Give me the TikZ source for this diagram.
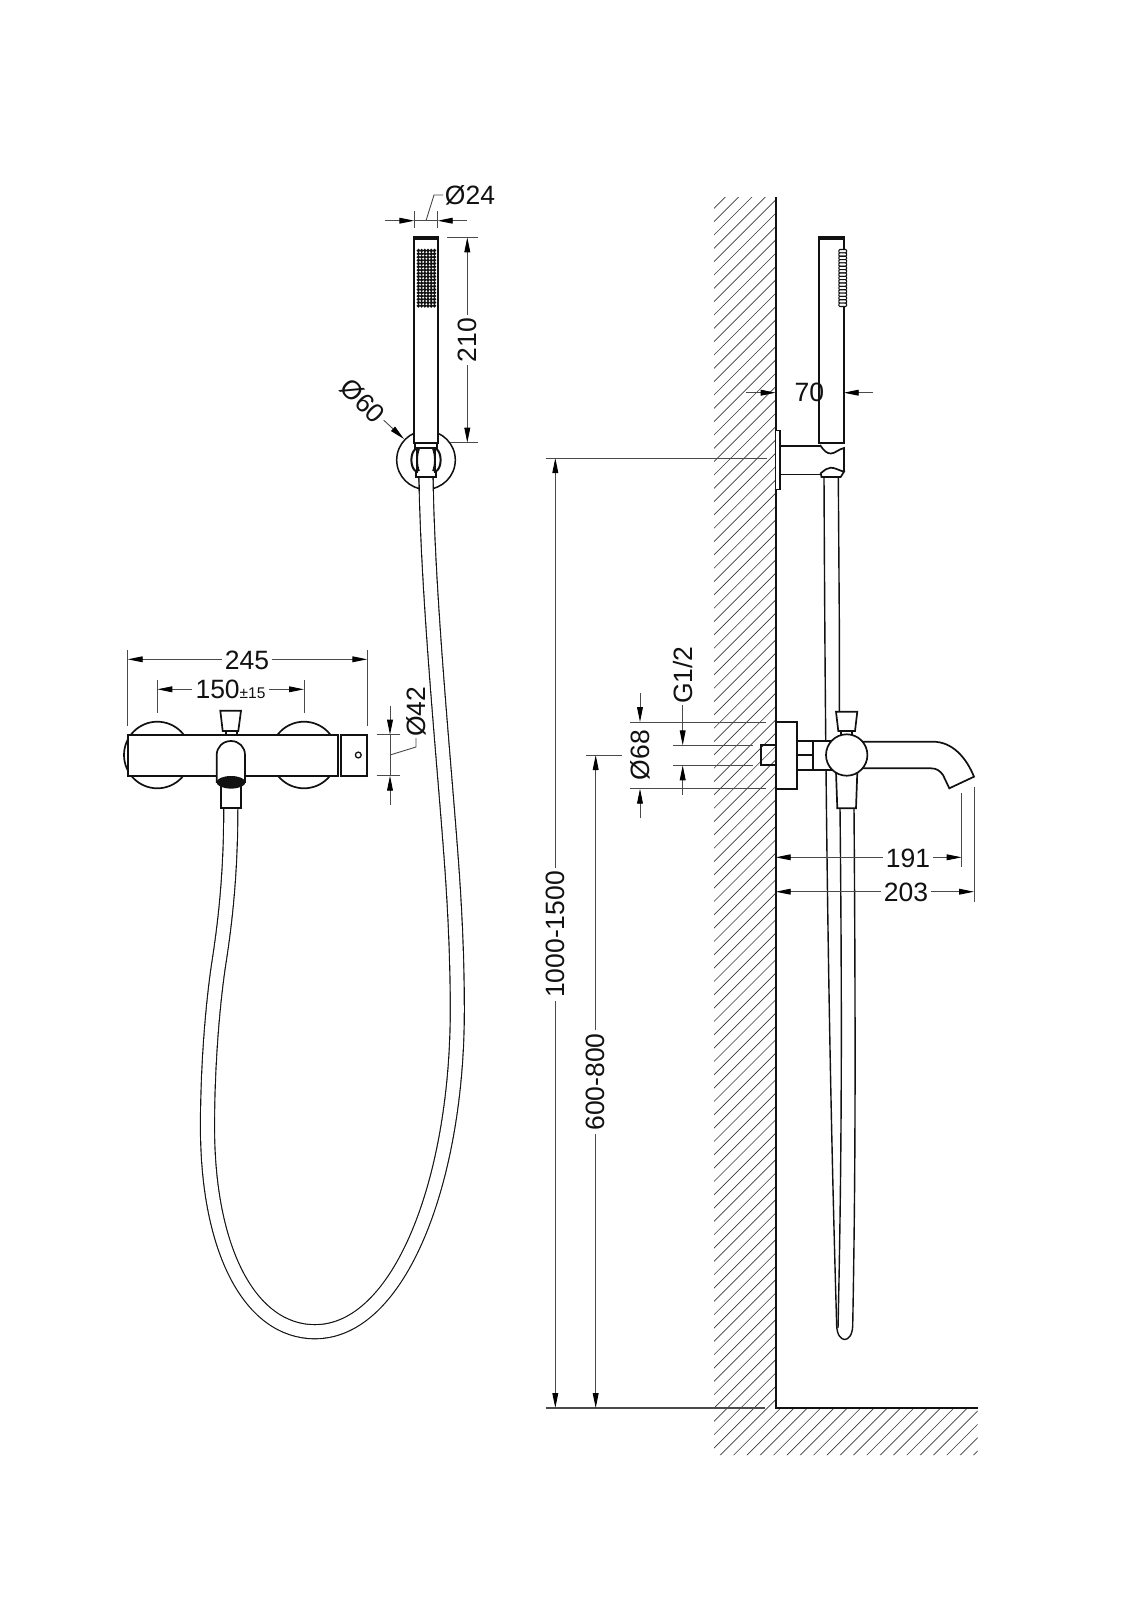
\documentclass[tikz,border=0pt]{standalone}
\usepackage{fontspec}
\setmainfont{Liberation Sans}
\usetikzlibrary{arrows.meta}
\definecolor{dimgrey}{HTML}{4A4A4A}
\definecolor{hatchgrey}{HTML}{3A3A3A}
\definecolor{inkblack}{HTML}{111111}
\tikzset{
  dimtip/.tip={Triangle[length=15pt,width=5.8pt,color=black,fill=black]},
  part/.style={line width=1.7pt,draw=inkblack,line join=miter},
  partfill/.style={part,fill=white},
  hoseline/.style={line width=1.15pt,draw=inkblack},
  hosedouble/.style={line width=1.15pt,draw=inkblack,double=white,double distance=12.9pt},
  dimen/.style={line width=0.9pt,draw=dimgrey},
  hatchl/.style={line width=0.65pt,draw=hatchgrey},
  lbl/.style={font=\fontsize{26.5}{30}\selectfont,text=inkblack,inner sep=3pt},
}
\begin{document}
\begin{tikzpicture}[x=1pt,y=-1pt]
\useasboundingbox (0,0) rectangle (1131,1600);
\fill[white] (0,0) rectangle (1131,1600);

% ---- wall hatching
\begin{scope}
\clip (714,197) -- (775.7,197) -- (775.7,1408) -- (977.7,1408) -- (977.7,1455) -- (714,1455) -- cycle;
\foreach \k in {-7,...,110} {
  \pgfmathsetmacro\cc{989+13.33*\k}
  \draw[hatchl] (700,\cc-700) -- (1000,\cc-1000);
}
\end{scope}
\draw[line width=2pt,draw=inkblack] (775.7,197) -- (775.7,1408) -- (977.7,1408);

% ---- LEFT VIEW: long hose
\draw[hosedouble] (426,477) .. controls (428,600) and (444,760) .. (451.3,860)
  .. controls (455,910) and (457.3,960) .. (457.3,1010)
  .. controls (457.3,1180) and (400,1331.7) .. (315,1331.7)
  .. controls (250,1331.7) and (207.5,1250) .. (207.5,1126.7)
  .. controls (207.5,1070) and (212,1010) .. (218.3,966.7)
  .. controls (224,930) and (230.8,880) .. (230.8,808);

% ---- LEFT VIEW: wall bracket and hand shower
\draw[part,line width=1.5pt] (426,460) circle[radius=29.3pt];
\fill[white] (419,477) rectangle (433,491);
\draw[hoseline] (419,477) -- (419.3,491) (433,477) -- (433.3,491);
\draw[partfill] (414.3,237.3) rectangle (437.7,442.7);
\fill[inkblack] (414.3,237) rectangle (437.7,240);
\foreach \i in {0,...,5} \foreach \j in {0,...,17}
  \fill[inkblack] (418.4+3.2*\i,250.6+3.25*\j) circle[radius=1.95pt];
\draw[partfill] (415,442.7) rectangle (437,448);
\draw[partfill] (417,448) -- (417,472) -- (416,472) -- (416,477) -- (436,477) -- (436,472) -- (435,472) -- (435,448) -- cycle;
\draw[part,line width=2pt] (415.5,449) .. controls (410,453) and (410,467) .. (415.5,471);
\draw[part,line width=2pt] (436.5,449) .. controls (442,453) and (442,467) .. (436.5,471);
\draw[part] (419,449) .. controls (416.5,455) and (416.5,465) .. (419,471);
\draw[part] (433,449) .. controls (435.5,455) and (435.5,465) .. (433,471);

% ---- LEFT VIEW: mixer
\draw[part] (157.3,755) circle[radius=33.3pt];
\draw[part] (304,755) circle[radius=33.3pt];
\draw[partfill] (128.3,734.7) rectangle (338.3,775.7);
\draw[partfill] (340.7,734.7) rectangle (367.3,775.7);
\draw[part,line width=1.3pt] (358.3,755) circle[radius=2.9pt];
\draw[partfill] (225.7,731) rectangle (236.7,735);
\draw[partfill] (220.3,710.7) -- (241,710.7) -- (238.3,731) -- (222.7,731) -- cycle;
\draw[partfill] (221,784) rectangle (240.7,808);
\draw[partfill] (216.7,782) -- (216.7,755) .. controls (216.7,747) and (223,741) .. (231,741) .. controls (239,741) and (245,747) .. (245,755) -- (245,782) -- cycle;
\fill[inkblack] (231,782.3) ellipse[x radius=14.5pt,y radius=6.3pt];

% ---- RIGHT VIEW: hose
\draw[hoseline,line width=1.4pt] (824,477) .. controls (825,700) and (827,1000) .. (836.7,1326) .. controls (837.5,1344) and (852,1344) .. (852.7,1326) .. controls (855,1200) and (856,1080) .. (854,808);
\draw[hoseline,line width=1.4pt] (840,808) .. controls (842,1000) and (842,1150) .. (838,1328);
\draw[hoseline,line width=1.4pt] (838.3,477) -- (839.3,620) -- (839.3,712);

% ---- RIGHT VIEW: bracket and shower
\draw[part] (820,445.7) -- (780,445.7) (820,474.5) -- (780,474.5);
\draw[partfill,line width=1.4pt] (775.7,430.7) rectangle (780,489.3);
\draw[partfill] (819.3,237.3) rectangle (843.7,443.3);
\fill[inkblack] (819.3,237) rectangle (843.7,240);
\foreach \j in {0,...,16}
  \draw[line width=1.1pt,draw=inkblack,fill=white,rounded corners=1pt] (838.8,249.5+3.35*\j) rectangle (846.6,252.9+3.35*\j);
\draw[part] (820,445) .. controls (824,451) and (827,453.5) .. (830.7,453.5) .. controls (835,453.5) and (838,449.5) .. (844,448) -- (844,471.7);
\draw[partfill] (821.5,477) -- (820.7,473.3) .. controls (825,470) and (827,467.7) .. (830.7,467.7) .. controls (835,467.7) and (838,470) .. (844,471.7) -- (840.7,477) -- cycle;

% ---- RIGHT VIEW: mixer
\draw[partfill] (775.7,722) rectangle (796.7,788.7);
\draw[part] (775.7,745.3) -- (761,745.3) -- (761,765.3) -- (775.7,765.3);
\draw[partfill] (813.3,741) rectangle (832,770);
\draw[partfill] (796.7,741) rectangle (813.3,770);
\draw[part] (796.7,755) -- (813.3,755);
\draw[partfill] (860,741.7) -- (933,741.7) .. controls (952,741.7) and (966,757) .. (974,776.7) -- (949.3,788.3) -- (943,775) .. controls (940,771) and (937,768.3) .. (931,768.3) -- (860,768.3);
\draw[partfill] (841,731) rectangle (852,736);
\draw[partfill] (836,711.7) -- (857.3,711.7) -- (855,731) -- (838.3,731) -- cycle;
\draw[partfill] (836,772) -- (857.3,772) -- (856,808.3) -- (837.3,808.3) -- cycle;
\draw[partfill] (846.7,755) circle[radius=20.7pt];

% ---- dimensions, left view
\node[lbl] (t24) at (470,195) {Ø24};
\coordinate (e24a) at (414.3,220.7); \coordinate (e24b) at (437.7,220.7);
\coordinate (f24a) at (385,220.7); \coordinate (f24b) at (467,220.7);
\coordinate (l24a) at (426,220.7); \coordinate (l24b) at (434,195); \coordinate (l24c) at (443,195);
\draw[dimen,-{dimtip}] (f24a) -- (e24a);
\draw[dimen,-{dimtip}] (f24b) -- (e24b);
\draw[dimen] (e24a) -- (e24b);
\draw[dimen] (l24a) -- (l24b) -- (l24c);
\draw[dimen] (414.3,211) -- (414.3,228) (437.7,211) -- (437.7,228);

\node[lbl,rotate=90] (t210) at (467.3,340) {210};
\coordinate (a210) at (467.3,237.3); \coordinate (b210) at (467.3,442.7);
\draw[dimen,-{dimtip}] (t210) -- (a210);
\draw[dimen,-{dimtip}] (t210) -- (b210);
\draw[dimen] (447,237.3) -- (478,237.3) (450,442.7) -- (478,442.7);

\node[lbl,rotate=-45] (t60) at (363,401) {Ø60};
\coordinate (a60) at (404,439);
\draw[dimen,-{dimtip}] (t60) -- (a60);

\node[lbl] (t245) at (247,660) {245};
\coordinate (a245) at (127.7,659.3); \coordinate (b245) at (367.3,659.3);
\draw[dimen,-{dimtip}] (t245.west |- a245) -- (a245);
\draw[dimen,-{dimtip}] (t245.east |- b245) -- (b245);
\draw[dimen] (127.7,650) -- (127.7,726) (367.3,650) -- (367.3,726);

\node[lbl] (t150) at (230.5,689.5) {150{\fontsize{15.5}{18}\selectfont ±15}};
\coordinate (a150) at (157.3,689.3); \coordinate (b150) at (304,689.3);
\draw[dimen,-{dimtip}] (t150.west |- a150) -- (a150);
\draw[dimen,-{dimtip}] (t150.east |- b150) -- (b150);
\draw[dimen] (157.3,680) -- (157.3,712.7) (304,680) -- (304,712.7);

\node[lbl,rotate=90] (t42) at (416.7,711.7) {Ø42};
\coordinate (a42) at (390,734.7); \coordinate (b42) at (390,775.7);
\coordinate (f42a) at (390,705.7); \coordinate (f42b) at (390,805);
\coordinate (l42a) at (390,755); \coordinate (l42b) at (416,747); \coordinate (l42c) at (416,738);
\draw[dimen,-{dimtip}] (f42a) -- (a42);
\draw[dimen,-{dimtip}] (f42b) -- (b42);
\draw[dimen] (a42) -- (b42);
\draw[dimen] (l42a) -- (l42b) -- (l42c);
\draw[dimen] (376.7,734.7) -- (400,734.7) (376.7,775.7) -- (400,775.7);

% ---- dimensions, right view
\node[lbl] (t70) at (809.3,392.7) {70};
\coordinate (a70) at (775.7,392.7); \coordinate (b70) at (843.7,392.7);
\coordinate (f70a) at (746,392.7); \coordinate (f70b) at (873,392.7);
\draw[dimen,-{dimtip}] (f70a) -- (a70);
\draw[dimen,-{dimtip}] (f70b) -- (b70);

\node[lbl,rotate=90] (t1000) at (555.3,934.5) {1000-1500};
\coordinate (a1000) at (555.3,458); \coordinate (b1000) at (555.3,1408);
\draw[dimen,-{dimtip}] (t1000) -- (a1000);
\draw[dimen,-{dimtip}] (t1000) -- (b1000);
\draw[dimen] (545.7,458) -- (766.7,458);
\draw[dimen,line width=1.1pt] (545.7,1408) -- (765,1408);

\node[lbl,rotate=90] (t600) at (595.7,1082) {600-800};
\coordinate (a600) at (595.7,755); \coordinate (b600) at (595.7,1408);
\draw[dimen,-{dimtip}] (t600) -- (a600);
\draw[dimen,-{dimtip}] (t600) -- (b600);
\draw[dimen] (586,755) -- (621.7,755);

\node[lbl,rotate=90] (t68) at (640,755) {Ø68};
\coordinate (a68) at (640,722); \coordinate (b68) at (640,788.7);
\coordinate (f68a) at (640,693.3); \coordinate (f68b) at (640,818);
\draw[dimen,-{dimtip}] (f68a) -- (a68);
\draw[dimen,-{dimtip}] (f68b) -- (b68);
\draw[dimen] (630,722) -- (766,722) (630,788.7) -- (766,788.7);

\node[lbl,rotate=90,inner sep=1pt] (tg) at (682.7,675) {G1/2};
\coordinate (ag) at (682.7,745.3); \coordinate (bg) at (682.7,765.3);
\coordinate (fg) at (682.7,795);
\draw[dimen,-{dimtip}] (tg) -- (ag);
\draw[dimen,-{dimtip}] (fg) -- (bg);
\draw[dimen] (673,745.3) -- (752.7,745.3) (673,765.3) -- (752.7,765.3);

\node[lbl] (t191) at (908,858) {191};
\coordinate (a191) at (775.7,857.3); \coordinate (b191) at (961.7,857.3);
\draw[dimen,-{dimtip}] (t191.west |- a191) -- (a191);
\draw[dimen,-{dimtip}] (t191.east |- b191) -- (b191);
\draw[dimen] (961.7,793) -- (961.7,866.7);

\node[lbl] (t203) at (906,892.5) {203};
\coordinate (a203) at (775.7,891.7); \coordinate (b203) at (974,891.7);
\draw[dimen,-{dimtip}] (t203.west |- a203) -- (a203);
\draw[dimen,-{dimtip}] (t203.east |- b203) -- (b203);
\draw[dimen] (974,786.7) -- (974,901.7);
\end{tikzpicture}
\end{document}
